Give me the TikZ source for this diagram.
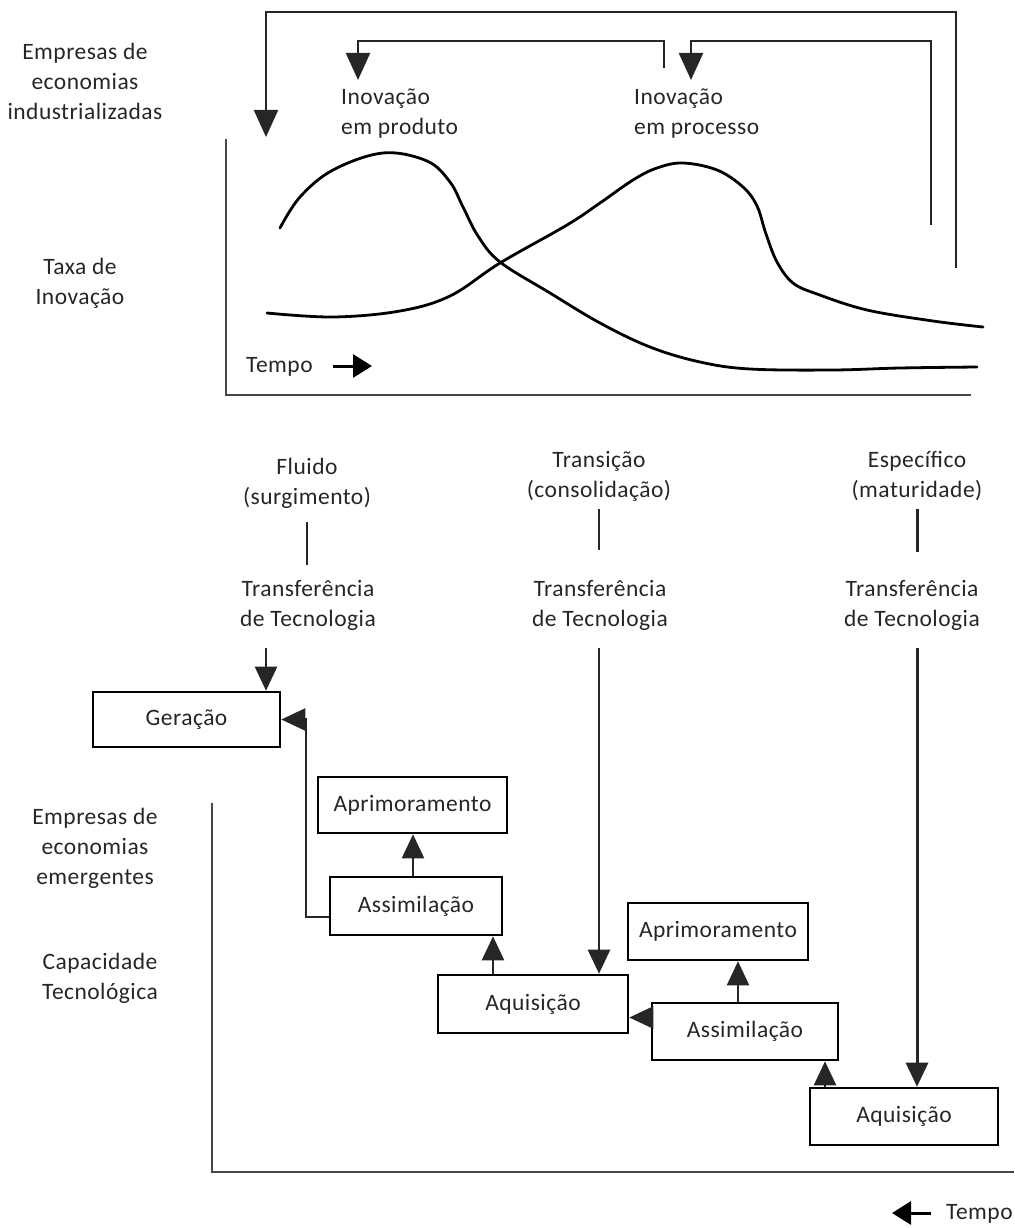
\documentclass[tikz,border=0pt]{standalone}
\usepackage{fontspec}
\setmainfont[LetterSpace=2]{Carlito}
\usetikzlibrary{arrows.meta}
\definecolor{txt}{HTML}{262626}
\definecolor{ln}{HTML}{262626}
\begin{document}
\begin{tikzpicture}[x=1pt,y=-1pt,
  every node/.style={font=\fontsize{23.5}{30}\selectfont, text=txt, inner sep=0pt},
  lbl/.style={align=center},
  box/.style={draw=black, line width=2.6pt, align=center},
  curve/.style={line width=2.8pt, black, line cap=round},
  axis/.style={line width=2.4pt, draw=ln!85!white},
  fb/.style={line width=2.2pt, draw=ln},
  bigarr/.style={-{Triangle[length=27pt,width=24pt]}},
  arr/.style={line width=2.4pt, draw=ln, -{Triangle[length=24pt,width=22pt]}},
  tarr/.style={line width=3pt, -{Triangle[length=19pt,width=23pt]}}
]
\useasboundingbox (0,0) rectangle (1014,1228);

% ---------- upper panel: rate of innovation ----------
\node[lbl] (ind) at (85,81) {Empresas de\\economias\\industrializadas};
\node[lbl] (taxa) at (80,283) {Taxa de\\Inova\c{c}\~ao};
\node[align=left, anchor=west] (iprod) at (341,114) {Inovação\\em produto};
\node[align=left, anchor=west] (iproc) at (634,114) {Inovação\\em processo};

\draw[axis] (226,139) -- (226,395) -- (971,395);
\node[anchor=west] (t1) at (246,367) {Tempo};
\coordinate (t1a) at (333,366);
\coordinate (t1b) at (372,366);
\draw[tarr] (t1a) -- (t1b);

% product innovation curve
\draw[curve] plot[smooth, tension=0.6] coordinates {(280,228) (300,197) (333,170) (383,153) (427,161) (450,182) (463,207) (478,236) (500,262) (550,293) (600,323) (650,347) (700,362) (750,369) (833,370) (900,368) (977,367)};
% process innovation curve
\draw[curve] plot[smooth, tension=0.6] coordinates {(267,313) (333,317) (400,311) (450,296) (500,263) (567,225) (600,203) (633,180) (657,168) (683,163) (717,170) (743,187) (757,206) (766,234) (777,262) (793,283) (817,294) (867,310) (933,321) (983,327)};

% feedback lines
\coordinate (fa0) at (956,268);
\coordinate (fa1) at (266,137);
\draw[fb, bigarr] (fa0) -- (956,12) -- (266,12) -- (fa1);
\coordinate (fb0) at (931,225);
\coordinate (fb1) at (691,80);
\draw[fb, bigarr] (fb0) -- (931,41) -- (691,41) -- (fb1);
\coordinate (fc0) at (664,68);
\coordinate (fc1) at (358,80);
\draw[fb, bigarr] (fc0) -- (664,41) -- (358,41) -- (fc1);

% ---------- stages ----------
\node[lbl] (flu) at (307,483) {Fluido\\(surgimento)};
\node[lbl] (tra) at (599,476) {Transição\\(consolidação)};
\node[lbl] (esp) at (917,476) {Específico\\(maturidade)};

\node[lbl] (tt1) at (308,605) {Transferência\\de Tecnologia};
\node[lbl] (tt2) at (600,605) {Transferência\\de Tecnologia};
\node[lbl] (tt3) at (912,605) {Transferência\\de Tecnologia};

\draw[fb] (307,522) -- (307,565);
\draw[fb] (599,509) -- (599,550);
\draw[line width=3pt, draw=ln] (917,509) -- (917,552);

% ---------- lower panel: technological capability ----------
\node[lbl] (eme) at (95,848) {Empresas de\\economias\\emergentes};
\node[lbl] (cap) at (100,978) {Capacidade\\Tecnológica};
\draw[axis] (212,803) -- (212,1172) -- (1014,1172);

\node[box, minimum width=187pt, minimum height=55pt] (gen) at (186.5,719.5) {Geração};
\node[box, minimum width=189pt, minimum height=56pt] (ap1) at (412.5,805) {Aprimoramento};
\node[box, minimum width=172pt, minimum height=58pt] (as1) at (416,906) {Assimilação};
\node[box, minimum width=190pt, minimum height=58pt] (aq1) at (533,1004) {Aquisição};
\node[box, minimum width=180pt, minimum height=57pt] (ap2) at (718,931.5) {Aprimoramento};
\node[box, minimum width=186pt, minimum height=57pt] (as2) at (745,1031.5) {Assimilação};
\node[box, minimum width=188pt, minimum height=57pt] (aq2) at (904,1116.5) {Aquisição};

% technology transfer arrows
\coordinate (ta) at (266,648);
\draw[arr] (ta) -- (ta |- gen.north);
\coordinate (tb) at (599,648);
\draw[arr] (tb) -- (tb |- aq1.north);
\coordinate (tc) at (917,648);
\draw[arr, line width=3pt] (tc) -- (tc |- aq2.north);

% internal learning arrows
\draw[arr] ([yshift=-11pt]as1.west) -- ++(-23,0) |- (gen.east);
\draw[arr] ([xshift=-3pt]as1.north) -- ([xshift=-3pt]as1.north |- ap1.south);
\draw[arr] ([xshift=-40pt]aq1.north) -- ([xshift=-40pt]aq1.north |- as1.south);
\draw[arr] ([yshift=14pt]as2.west) -- ([yshift=14pt]as2.west -| aq1.east);
\draw[arr] ([xshift=-7pt]as2.north) -- ([xshift=-7pt]as2.north |- ap2.south);
\draw[arr] ([xshift=-79pt]aq2.north) -- ([xshift=-79pt]aq2.north |- as2.south);

% time direction
\node[anchor=west] (t2) at (946,1214) {Tempo};
\coordinate (t2a) at (931,1213);
\coordinate (t2b) at (892,1213);
\draw[tarr] (t2a) -- (t2b);
\end{tikzpicture}
\end{document}
